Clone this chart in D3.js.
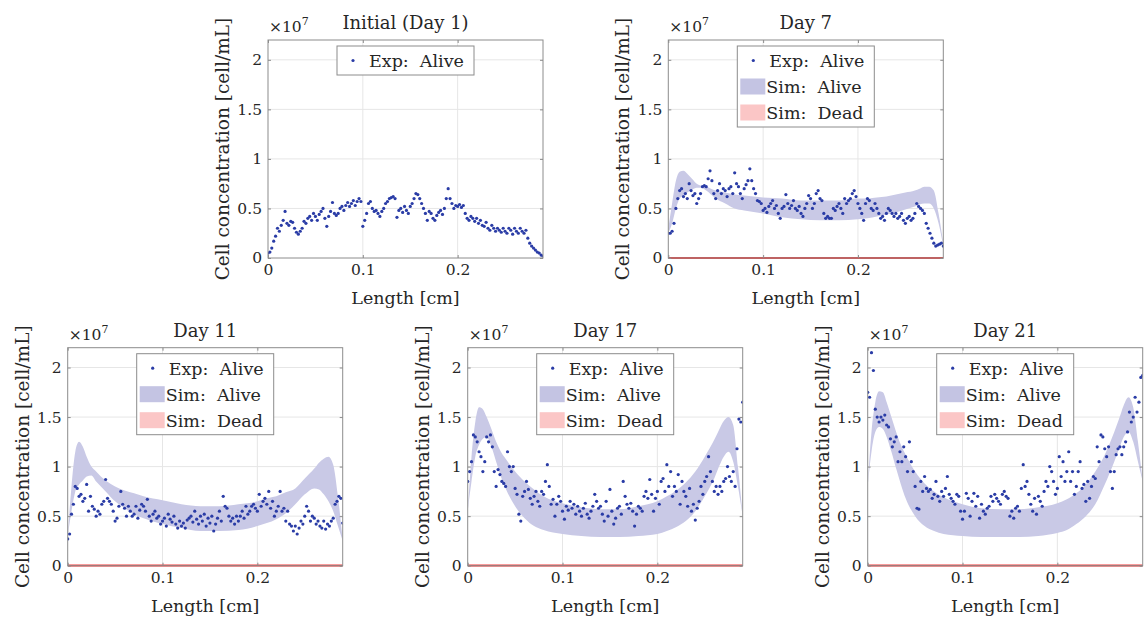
<!DOCTYPE html>
<html><head><meta charset="utf-8">
<script src="https://cdn.jsdelivr.net/npm/d3@7"></script>
<style>body{margin:0;background:#fff}svg{display:block}</style>
</head><body>
<svg id="c" width="1148" height="619"></svg>
<script>
// ---------------- DATA ----------------
const titles = ["Initial (Day 1)", "Day 7", "Day 11", "Day 17", "Day 21"];
const xTicks = [0, 0.1, 0.2];
const yTicks = [0, 0.5, 1, 1.5, 2];
const xTickLabels = ["0", "0.1", "0.2"];
const yTickLabels = ["0", "0.5", "1", "1.5", "2"];
const legendLabels = ["Exp: Alive", "Sim: Alive", "Sim: Dead"];

// experimental sample positions [cm]
const expX = [
0,0.002,0.004,0.006,0.008,0.010,0.012,0.014,0.016,0.018,
0.020,0.022,0.024,0.026,0.028,0.030,0.032,0.034,0.036,0.038,
0.040,0.042,0.044,0.046,0.048,0.050,0.052,0.054,0.056,0.058,
0.060,0.062,0.064,0.066,0.068,0.070,0.072,0.074,0.076,0.078,
0.080,0.082,0.084,0.086,0.088,0.090,0.092,0.094,0.096,0.098,
0.100,0.102,0.104,0.106,0.108,0.110,0.112,0.114,0.116,0.118,
0.120,0.122,0.124,0.126,0.128,0.130,0.132,0.134,0.136,0.138,
0.140,0.142,0.144,0.146,0.148,0.150,0.152,0.154,0.156,0.158,
0.160,0.162,0.164,0.166,0.168,0.170,0.172,0.174,0.176,0.178,
0.180,0.182,0.184,0.186,0.188,0.190,0.192,0.194,0.196,0.198,
0.200,0.202,0.204,0.206,0.208,0.210,0.212,0.214,0.216,0.218,
0.220,0.222,0.224,0.226,0.228,0.230,0.232,0.234,0.236,0.238,
0.240,0.242,0.244,0.246,0.248,0.250,0.252,0.254,0.256,0.258,
0.260,0.262,0.264,0.266,0.268,0.270,0.272,0.274,0.276,0.278,
0.280,0.282,0.284,0.286,0.288,0.290];

// experimental alive concentration [x1e7 cell/mL]
const expDay1 = [
0.05,0.06,0.1,0.17,0.22,0.3,0.27,0.33,0.38,0.47,
0.35,0.33,0.37,0.36,0.3,0.26,0.24,0.27,0.3,0.37,
0.35,0.4,0.42,0.38,0.45,0.42,0.38,0.44,0.47,0.5,
0.4,0.32,0.42,0.47,0.56,0.45,0.43,0.45,0.5,0.52,
0.48,0.53,0.56,0.52,0.55,0.58,0.53,0.57,0.6,0.57,
0.32,0.38,0.45,0.55,0.57,0.5,0.47,0.48,0.45,0.42,
0.47,0.5,0.55,0.57,0.6,0.61,0.62,0.6,0.41,0.48,
0.5,0.46,0.52,0.48,0.45,0.52,0.55,0.6,0.65,0.64,
0.6,0.55,0.5,0.45,0.38,0.47,0.45,0.4,0.38,0.43,
0.46,0.48,0.44,0.5,0.6,0.7,0.6,0.55,0.5,0.53,
0.52,0.54,0.51,0.53,0.45,0.4,0.38,0.42,0.4,0.37,
0.4,0.35,0.38,0.33,0.32,0.36,0.3,0.28,0.33,0.3,
0.27,0.3,0.28,0.26,0.3,0.27,0.25,0.3,0.28,0.24,
0.3,0.27,0.25,0.3,0.27,0.25,0.28,0.2,0.15,0.12,
0.1,0.08,0.06,0.05,0.03,0.02];
const expDay7 = [
0.25,0.25,0.27,0.35,0.5,0.6,0.68,0.7,0.62,0.65,
0.6,0.75,0.68,0.63,0.65,0.55,0.6,0.65,0.72,0.73,
0.72,0.8,0.88,0.78,0.65,0.6,0.68,0.75,0.65,0.7,
0.68,0.62,0.7,0.72,0.65,0.86,0.75,0.72,0.65,0.6,
0.7,0.74,0.78,0.9,0.78,0.7,0.65,0.58,0.57,0.55,
0.48,0.5,0.46,0.52,0.55,0.58,0.5,0.53,0.45,0.4,
0.5,0.52,0.64,0.55,0.5,0.53,0.58,0.5,0.48,0.52,
0.45,0.42,0.5,0.55,0.63,0.6,0.5,0.55,0.65,0.68,
0.6,0.58,0.45,0.4,0.42,0.4,0.4,0.5,0.48,0.52,
0.55,0.5,0.45,0.6,0.55,0.58,0.6,0.65,0.68,0.62,
0.55,0.5,0.45,0.38,0.55,0.6,0.58,0.5,0.48,0.55,
0.5,0.45,0.4,0.42,0.38,0.45,0.5,0.48,0.45,0.42,
0.45,0.4,0.42,0.45,0.38,0.35,0.4,0.42,0.38,0.4,
0.45,0.55,0.52,0.5,0.48,0.45,0.35,0.3,0.25,0.2,
0.15,0.12,0.13,0.14,0.15,0.12];
const expDay11 = [
0.27,0.32,0.52,0.62,0.8,0.78,0.7,0.72,0.65,0.68,
0.82,0.55,0.7,0.6,0.57,0.5,0.55,0.52,0.62,0.65,
0.87,0.68,0.65,0.62,0.55,0.45,0.48,0.6,0.75,0.62,
0.58,0.5,0.6,0.55,0.5,0.52,0.6,0.48,0.56,0.62,
0.6,0.55,0.67,0.5,0.45,0.52,0.55,0.48,0.5,0.42,
0.45,0.48,0.4,0.52,0.47,0.44,0.5,0.42,0.38,0.45,
0.4,0.43,0.38,0.46,0.48,0.5,0.44,0.55,0.47,0.42,
0.5,0.45,0.52,0.4,0.48,0.43,0.5,0.35,0.42,0.48,
0.55,0.45,0.7,0.6,0.58,0.5,0.45,0.48,0.42,0.5,
0.45,0.5,0.55,0.48,0.6,0.52,0.55,0.6,0.62,0.58,
0.55,0.72,0.6,0.65,0.68,0.62,0.75,0.58,0.65,0.5,
0.55,0.6,0.75,0.55,0.58,0.45,0.55,0.42,0.4,0.35,
0.4,0.32,0.38,0.45,0.42,0.5,0.6,0.55,0.45,0.5,
0.48,0.42,0.45,0.4,0.38,0.45,0.37,0.42,0.4,0.45,
0.48,0.62,0.65,0.7,0.68,0.43];
const expDay17 = [
0.85,0.95,1.05,1.32,1.3,1.25,1.15,1.1,0.95,1.05,
1.3,1.25,1.32,1.2,0.95,0.8,0.97,0.92,0.85,0.83,
0.8,1.15,1.0,0.95,1.0,0.78,0.72,0.52,0.45,0.7,
0.75,0.85,0.77,0.68,0.62,0.7,0.75,0.65,0.6,0.75,
0.72,0.85,1.02,0.8,0.62,0.67,0.5,0.62,0.7,0.65,
0.55,0.47,0.6,0.56,0.65,0.58,0.62,0.52,0.6,0.55,
0.5,0.58,0.63,0.52,0.48,0.55,0.6,0.72,0.65,0.58,
0.6,0.52,0.45,0.65,0.5,0.77,0.55,0.42,0.48,0.58,
0.6,0.52,0.85,0.7,0.62,0.58,0.63,0.55,0.4,0.52,
0.6,0.58,0.55,0.7,0.75,0.68,0.87,0.72,0.55,0.68,
0.75,0.62,0.85,0.88,0.75,1.02,0.8,0.95,0.7,0.8,
0.75,0.92,0.62,0.85,0.75,0.7,0.6,0.78,0.55,0.62,
0.46,0.58,0.65,0.8,0.72,0.85,0.9,1.1,0.95,0.85,
0.75,0.8,0.72,0.8,0.75,0.85,0.88,1.0,0.9,0.85,
0.95,0.8,1.18,1.48,1.45,1.65];
const expDay21 = [
1.75,1.7,2.15,1.97,1.58,1.5,1.45,1.5,1.47,1.52,
1.42,1.4,1.28,1.2,1.25,1.3,1.05,1.15,1.05,1.2,
1.1,0.95,1.25,1.05,0.95,0.8,0.58,0.57,0.85,0.75,
0.9,0.78,0.75,0.77,0.68,0.72,0.85,0.7,0.65,0.75,
0.7,0.78,0.9,0.72,0.68,0.65,0.62,0.72,0.7,0.55,
0.47,0.55,0.73,0.68,0.5,0.65,0.73,0.6,0.7,0.48,
0.62,0.55,0.52,0.58,0.6,0.7,0.65,0.72,0.68,0.65,
0.62,0.72,0.75,0.7,0.68,0.5,0.55,0.48,0.58,0.6,
0.55,0.78,1.02,0.8,0.85,0.72,0.62,0.55,0.68,0.52,
0.7,0.65,0.6,0.75,0.85,0.8,1.0,0.95,0.85,0.72,
0.78,1.1,0.9,1.05,0.85,0.95,1.15,0.85,0.95,0.72,
0.8,0.95,1.05,0.78,0.82,0.65,0.85,0.68,0.8,0.9,
0.88,1.2,1.05,1.32,1.3,1.18,1.1,1.2,0.95,0.78,
0.95,1.12,1.18,1.2,1.12,1.2,1.25,1.35,1.55,1.45,
1.5,1.7,1.55,1.65,1.9,1.92];

// simulated alive band (upper / lower) [x1e7 cell/mL]
const bandX = [0,0.004,0.008,0.012,0.016,0.02,0.025,0.03,0.035,0.04,0.05,0.06,0.07,0.08,0.1,0.12,0.14,0.16,0.18,0.2,0.21,0.22,0.23,0.24,0.25,0.26,0.265,0.27,0.275,0.28,0.285,0.29];
const simUpper7  = [0.3,0.55,0.78,0.87,0.88,0.85,0.8,0.75,0.73,0.72,0.68,0.66,0.64,0.63,0.61,0.6,0.58,0.58,0.58,0.6,0.6,0.61,0.62,0.64,0.66,0.68,0.7,0.72,0.72,0.68,0.45,0.15];
const simLower7  = [0.25,0.35,0.5,0.6,0.63,0.66,0.69,0.71,0.71,0.68,0.6,0.55,0.5,0.48,0.45,0.41,0.39,0.38,0.38,0.39,0.4,0.42,0.44,0.46,0.49,0.52,0.54,0.55,0.55,0.5,0.35,0.12];
const simUpper11 = [0.3,0.8,1.15,1.25,1.2,1.1,1.0,0.95,0.9,0.86,0.8,0.76,0.73,0.7,0.66,0.62,0.6,0.6,0.62,0.65,0.68,0.7,0.74,0.78,0.88,0.98,1.04,1.08,1.1,1.02,0.7,0.25];
const simLower11 = [0.3,0.55,0.75,0.82,0.86,0.9,0.91,0.85,0.8,0.75,0.65,0.58,0.52,0.48,0.42,0.38,0.35,0.35,0.36,0.4,0.43,0.47,0.53,0.62,0.72,0.78,0.77,0.72,0.65,0.55,0.4,0.25];
const simUpper17 = [0.55,1.1,1.45,1.6,1.58,1.5,1.38,1.25,1.15,1.08,0.95,0.85,0.77,0.7,0.63,0.59,0.57,0.57,0.6,0.65,0.7,0.76,0.84,0.95,1.1,1.27,1.37,1.46,1.5,1.42,1.0,0.5];
const simLower17 = [0.55,0.85,1.1,1.22,1.28,1.3,1.2,1.05,0.9,0.78,0.6,0.48,0.4,0.36,0.32,0.3,0.29,0.29,0.3,0.32,0.35,0.39,0.45,0.55,0.7,0.88,1.0,1.1,1.15,1.05,0.8,0.5];
const simUpper21 = [0.8,1.35,1.65,1.76,1.75,1.65,1.5,1.35,1.22,1.12,0.95,0.83,0.75,0.69,0.62,0.58,0.57,0.57,0.59,0.63,0.67,0.73,0.82,0.95,1.12,1.35,1.48,1.62,1.7,1.6,1.25,0.85];
const simLower21 = [0.8,1.15,1.35,1.4,1.38,1.3,1.15,0.98,0.82,0.68,0.5,0.4,0.35,0.32,0.3,0.29,0.29,0.29,0.3,0.33,0.36,0.42,0.5,0.62,0.82,1.05,1.18,1.3,1.35,1.25,1.05,0.85];

// simulated dead cells (zero everywhere)
const deadX = [0, 0.29];
const deadY = [0, 0];

// ---------------- LAYOUT ----------------
const W = 275, H = 218;
const panels = [
  {title: titles[0], exp: expDay1,  up: null,        lo: null,        left: 268,   top: 40},
  {title: titles[1], exp: expDay7,  up: simUpper7,  lo: simLower7,  left: 668.3, top: 40},
  {title: titles[2], exp: expDay11, up: simUpper11, lo: simLower11, left: 67.7,  top: 347.7},
  {title: titles[3], exp: expDay17, up: simUpper17, lo: simLower17, left: 467.7, top: 347.7},
  {title: titles[4], exp: expDay21, up: simUpper21, lo: simLower21, left: 867.7, top: 347.7}
];

const FONT = "'DejaVu Serif', serif";
const TXT = "#262626";
const DOT = "#2a3ca6";
const BAND = "#c9c9e6";
const BAND_LEG = "#c4c4e3";
const RED = "#f03a3a";
const DEAD_LEG = "#fbc6c6";

const svg = d3.select("#c");

panels.forEach((p, pi) => {
  const g = svg.append("g").attr("transform", `translate(${p.left},${p.top})`);
  const x = d3.scaleLinear().domain([0, 0.29]).range([0, W]);
  const y = d3.scaleLinear().domain([0, 2.2]).range([H, 0]);

  // grid
  g.append("g").selectAll("line").data(xTicks.slice(1)).join("line")
    .attr("x1", d => x(d)).attr("x2", d => x(d)).attr("y1", 0).attr("y2", H)
    .attr("stroke", "#e6e6e6").attr("stroke-width", 1);
  g.append("g").selectAll("line").data(yTicks.slice(1)).join("line")
    .attr("y1", d => y(d)).attr("y2", d => y(d)).attr("x1", 0).attr("x2", W)
    .attr("stroke", "#e6e6e6").attr("stroke-width", 1);

  const clipId = "clip" + pi;
  g.append("clipPath").attr("id", clipId).append("rect").attr("width", W).attr("height", H + 2).attr("y", -1);
  const plot = g.append("g").attr("clip-path", `url(#${clipId})`);

  if (p.up) {
    const bd = bandX.map((bx, i) => [bx, p.up[i], p.lo[i]]);
    const area = d3.area().x(d => x(d[0])).y0(d => y(d[2])).y1(d => y(d[1])).curve(d3.curveMonotoneX);
    plot.append("path").datum(bd).attr("d", area).attr("fill", BAND).attr("stroke", "none");
    const dl = d3.line().x(d => x(d[0])).y(d => y(d[1]));
    plot.append("path").datum(deadX.map((dx, i) => [dx, deadY[i]])).attr("d", dl)
      .attr("stroke", RED).attr("stroke-width", 2.2).attr("fill", "none");
  }

  plot.append("g").selectAll("circle").data(expX.map((ex, i) => [ex, p.exp[i]])).join("circle")
    .attr("cx", d => x(d[0])).attr("cy", d => y(d[1])).attr("r", 1.6).attr("fill", DOT);

  // box
  g.append("rect").attr("width", W).attr("height", H).attr("fill", "none")
    .attr("stroke", "#8c8c8c").attr("stroke-width", 1);

  // axes
  const ax = d3.axisBottom(x).tickValues(xTicks).tickFormat((d, i) => xTickLabels[i]).tickSizeInner(-3).tickSizeOuter(0).tickPadding(6);
  const ay = d3.axisLeft(y).tickValues(yTicks).tickFormat((d, i) => yTickLabels[i]).tickSizeInner(-3).tickSizeOuter(0).tickPadding(6);
  const axT = d3.axisTop(x).tickValues(xTicks).tickFormat("").tickSizeInner(-3).tickSizeOuter(0);
  const ayR = d3.axisRight(y).tickValues(yTicks).tickFormat("").tickSizeInner(-3).tickSizeOuter(0);
  [[ax, `translate(0,${H})`], [ay, null], [axT, null], [ayR, `translate(${W},0)`]].forEach(([a, t]) => {
    const ag = g.append("g").call(a);
    if (t) ag.attr("transform", t);
    ag.select(".domain").remove();
    ag.selectAll("line").attr("stroke", "#8c8c8c");
    ag.selectAll("text").attr("font-family", FONT).attr("font-size", 15.5).attr("fill", TXT);
  });

  // labels
  g.append("text").attr("x", W / 2).attr("y", H + 46).attr("text-anchor", "middle")
    .attr("font-family", FONT).attr("font-size", 17.5).attr("fill", TXT).text("Length [cm]");
  g.append("text").attr("transform", `translate(-39,${H / 2}) rotate(-90)`).attr("text-anchor", "middle")
    .attr("font-family", FONT).attr("font-size", 18.5).attr("fill", TXT).text("Cell concentration [cell/mL]");
  g.append("text").attr("x", W / 2).attr("y", -11).attr("text-anchor", "middle")
    .attr("font-family", FONT).attr("font-size", 18).attr("fill", TXT).text(p.title);
  const mt = g.append("text").attr("x", 1).attr("y", -8).attr("font-family", FONT).attr("font-size", 15.5).attr("fill", TXT);
  mt.append("tspan").text("×10");
  mt.append("tspan").attr("dy", -7).attr("font-size", 11).text("7");

  // legend
  const n = p.up ? 3 : 1;
  const lw = 137, rh = 26;
  const lx = W / 2 - lw / 2, ly = 6;
  const lg = g.append("g").attr("transform", `translate(${lx},${ly})`);
  lg.append("rect").attr("width", lw).attr("height", rh * n + 3).attr("fill", "#fff").attr("stroke", "#8c8c8c").attr("stroke-width", 1);
  for (let i = 0; i < n; i++) {
    const cy = 14.5 + rh * i;
    if (i === 0) {
      lg.append("circle").attr("cx", 16).attr("cy", cy).attr("r", 1.6).attr("fill", DOT);
    } else {
      lg.append("rect").attr("x", 3).attr("y", cy - 8).attr("width", 25).attr("height", 16)
        .attr("fill", i === 1 ? BAND_LEG : DEAD_LEG);
    }
    lg.append("text").attr("x", i === 0 ? 32 : 29).attr("y", cy + 6.5)
      .attr("font-family", FONT).attr("font-size", 17.5).attr("fill", TXT)
      .attr("xml:space", "preserve").style("white-space", "pre").text(legendLabels[i].replace(": ", ":  "));
  }
});
</script>
</body></html>
